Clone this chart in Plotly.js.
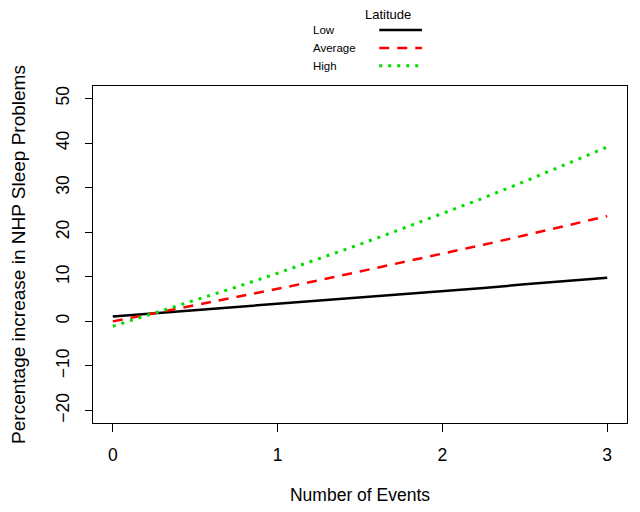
<!DOCTYPE html>
<html>
<head>
<meta charset="utf-8">
<script src="https://cdn.plot.ly/plotly-3.0.1.min.js"></script>
<style>
  html, body { margin: 0; padding: 0; background: #fff; }
  #chart { width: 640px; height: 512px; }
</style>
</head>
<body>
<div id="chart"></div>
<script>
// number of events
var events = [0, 0.25, 0.5, 0.75, 1, 1.25, 1.5, 1.75, 2, 2.25, 2.5, 2.75, 3];

// percentage increase, by latitude
var lowLat = [1.1, 1.8, 2.5, 3.2, 3.9, 4.6, 5.3, 6.0, 6.8, 7.5, 8.3, 9.0, 9.8];
var avgLat = [0.0, 1.8, 3.6, 5.4, 7.3, 9.2, 11.2, 13.1, 15.2, 17.2, 19.3, 21.4, 23.6];
var highLat = [-1.1, 1.8, 4.7, 7.7, 10.8, 14.0, 17.3, 20.7, 24.2, 27.7, 31.4, 35.2, 39.1];

var names = ["Low", "Average", "High"];
var colors = ["#000000", "#FF0000", "#00DD00"];
var dashes = ["solid", "10px,8px", "3px,6px"];
var widths = [2.5, 2.5, 3];
var series = [lowLat, avgLat, highLat];

var xTicks = [0, 1, 2, 3];
var yTicks = [-20, -10, 0, 10, 20, 30, 40, 50];

var traces = series.map(function (ys, i) {
    return {
        type: "scatter",
        mode: "lines",
        x: events,
        y: ys,
        name: names[i],
        line: { color: colors[i], dash: dashes[i], width: widths[i] },
        showlegend: false
    };
});

// R-style legend: text on the left, line sample on the right
var legendRows = [1.166, 1.113, 1.060];
var annotations = [{
    text: "Latitude", xref: "paper", yref: "paper",
    x: 0.553, y: 1.213, xanchor: "center", yanchor: "middle",
    showarrow: false, font: { size: 13, color: "#000" }
}];
var shapes = [];
names.forEach(function (n, i) {
    annotations.push({
        text: n, xref: "paper", yref: "paper",
        x: 0.408, y: legendRows[i], xanchor: "left", yanchor: "middle",
        showarrow: false, font: { size: 11.5, color: "#000" }
    });
    shapes.push({
        type: "line", xref: "paper", yref: "paper",
        x0: 0.536, x1: 0.616, y0: legendRows[i], y1: legendRows[i],
        line: { color: colors[i], dash: dashes[i], width: widths[i] }
    });
});

var axisFont = { family: "Liberation Sans, Arial, sans-serif", size: 17.5, color: "#000" };
var yTitleFont = { family: "Liberation Sans, Arial, sans-serif", size: 19, color: "#000" };

var layout = {
    width: 640,
    height: 512,
    margin: { l: 93, r: 13, t: 86, b: 89 },
    paper_bgcolor: "#fff",
    plot_bgcolor: "#fff",
    font: { family: "Liberation Sans, Arial, sans-serif", color: "#000" },
    xaxis: {
        range: [-0.12, 3.12],
        tickvals: xTicks,
        ticks: "outside", ticklen: 8, tickwidth: 1, tickcolor: "#000",
        ticklabelstandoff: 8,
        showline: true, mirror: true, linecolor: "#000", linewidth: 1,
        showgrid: false, zeroline: false,
        tickfont: axisFont,
        title: { text: "Number of Events", font: axisFont, standoff: 24 }
    },
    yaxis: {
        range: [-22.8, 52.8],
        tickvals: yTicks,
        tickangle: -90,
        ticks: "outside", ticklen: 7, tickwidth: 1, tickcolor: "#000",
        ticklabelstandoff: 9,
        showline: true, mirror: true, linecolor: "#000", linewidth: 1,
        showgrid: false, zeroline: false,
        tickfont: axisFont,
        title: { text: "Percentage increase in NHP Sleep Problems", font: yTitleFont, standoff: 22 }
    },
    annotations: annotations,
    shapes: shapes
};

Plotly.newPlot("chart", traces, layout, { displayModeBar: false, staticPlot: true });
</script>
</body>
</html>
